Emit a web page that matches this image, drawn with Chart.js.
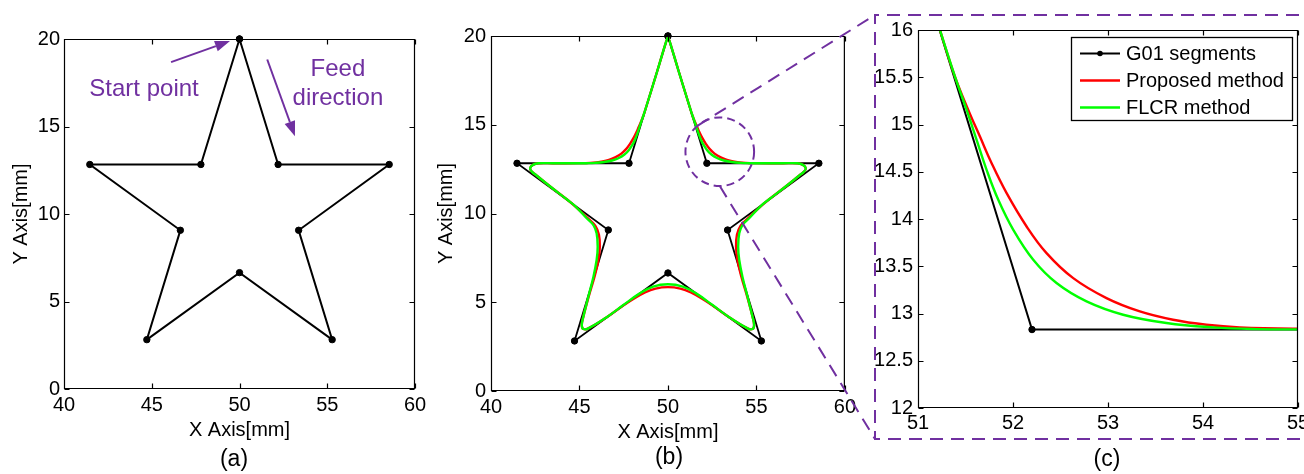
<!DOCTYPE html>
<html>
<head>
<meta charset="utf-8">
<script src="https://cdn.jsdelivr.net/npm/chart.js@4.4.1/dist/chart.umd.min.js"></script>
<style>
  html, body { margin: 0; padding: 0; background: #fff; overflow: hidden; }
  #wrap { position: relative; width: 1304px; height: 474px; overflow: hidden; background: #fff; }
  #wrap canvas { position: absolute; top: 0; }
  .cap { position: absolute; font: 23px "Liberation Sans", Arial, sans-serif; line-height: 1; color: #000;
         transform: translateX(-50%); white-space: nowrap; }
</style>
</head>
<body>
<div id="wrap">
  <canvas id="starA" width="440" height="474" style="left:0px"></canvas>
  <canvas id="starB" width="440" height="474" style="left:420px"></canvas>
  <canvas id="zoomC" width="470" height="474" style="left:860px"></canvas>
  <canvas id="links" width="1304" height="474" style="left:0px;pointer-events:none"></canvas>
  <div class="cap" style="left:234px;top:447px">(a)</div>
  <div class="cap" style="left:669px;top:445px">(b)</div>
  <div class="cap" style="left:1107px;top:447px">(c)</div>
</div>
<script>
// ---- G01 tool path (star outline, start point at the top vertex) ----
const g01X = [50, 52.2, 58.53, 53.37, 55.28, 50, 44.72, 46.63, 41.47, 47.8, 50];
const g01Y = [20, 12.83, 12.83, 9.07, 2.82, 6.65, 2.82, 9.07, 12.83, 12.83, 20];

// ---- Proposed method: smoothed path ----
const proposedX = [50.00, 50.11, 50.61, 51.231, 51.389, 51.529, 51.652, 51.775, 51.933, 52.143, 52.353, 52.634,
  52.984, 53.335, 53.685, 54.036, 54.387, 55.00, 56.50, 57.31, 57.63, 57.79, 57.69, 57.41, 56.60, 55.72,
  55.15, 54.52, 54.10, 53.90, 53.85, 53.93, 54.15, 54.48, 54.78, 54.87, 54.78, 54.50, 53.46, 52.60,
  52.00, 51.30, 50.70, 50.00, 49.30, 48.70, 48.00, 47.40, 46.54, 45.50, 45.22, 45.13, 45.22, 45.52,
  45.85, 46.07, 46.15, 46.10, 45.90, 45.48, 44.85, 44.28, 43.40, 42.59, 42.31, 42.21, 42.37, 42.69,
  43.50, 45.00, 45.613, 45.964, 46.315, 46.665, 47.016, 47.366, 47.647, 47.857, 48.067, 48.225,
  48.348, 48.471, 48.611, 48.769, 49.39, 49.89, 50.00];
const proposedY = [19.95, 19.65, 18.00, 16.00, 15.507, 15.154, 14.872, 14.590, 14.273, 13.921, 13.639, 13.374,
  13.163, 13.022, 12.934, 12.881, 12.853, 12.839, 12.83, 12.83, 12.74, 12.55, 12.36, 12.13, 11.48, 10.80,
  10.32, 9.72, 9.30, 8.80, 8.13, 7.38, 6.44, 5.31, 4.19, 3.72, 3.49, 3.53, 4.16, 4.76,
  5.15, 5.55, 5.77, 5.85, 5.77, 5.55, 5.15, 4.76, 4.16, 3.53, 3.49, 3.72, 4.19, 5.31,
  6.44, 7.38, 8.13, 8.80, 9.30, 9.72, 10.32, 10.80, 11.48, 12.13, 12.36, 12.55, 12.74, 12.83,
  12.83, 12.839, 12.853, 12.881, 12.934, 13.022, 13.163, 13.374, 13.639, 13.921, 14.273, 14.590,
  14.872, 15.154, 15.507, 16.00, 18.00, 19.65, 19.95];

// ---- FLCR method: smoothed path ----
const flcrX = [50.00, 50.11, 50.61, 51.231, 51.389, 51.512, 51.617, 51.722, 51.845, 52.003, 52.213, 52.458,
  52.774, 53.159, 53.615, 54.106, 54.562, 55.00, 56.50, 57.31, 57.63, 57.79, 57.69, 57.41, 56.60, 55.72,
  55.20, 54.59, 54.21, 54.03, 53.97, 54.03, 54.21, 54.50, 54.78, 54.87, 54.78, 54.50, 53.46, 52.52,
  51.59, 50.84, 50.00, 49.16, 48.41, 47.48, 46.54, 45.50, 45.22, 45.13, 45.22, 45.50, 45.79, 45.97,
  46.03, 45.97, 45.79, 45.41, 44.80, 44.28, 43.40, 42.59, 42.31, 42.21, 42.37, 42.69, 43.50, 45.00,
  45.438, 45.894, 46.385, 46.841, 47.226, 47.542, 47.787, 47.997, 48.155, 48.278, 48.383, 48.488,
  48.611, 48.769, 49.39, 49.89, 50.00];
const flcrY = [19.95, 19.65, 18.00, 16.00, 15.507, 15.154, 14.837, 14.520, 14.203, 13.885, 13.568, 13.322,
  13.128, 12.987, 12.899, 12.853, 12.835, 12.832, 12.83, 12.83, 12.74, 12.55, 12.36, 12.13, 11.48, 10.80,
  10.38, 9.73, 9.35, 8.88, 8.13, 7.38, 6.44, 5.31, 4.19, 3.72, 3.49, 3.53, 4.16, 4.84,
  5.50, 5.88, 6.01, 5.88, 5.50, 4.84, 4.16, 3.53, 3.49, 3.72, 4.19, 5.31, 6.44, 7.38,
  8.13, 8.88, 9.35, 9.73, 10.38, 10.80, 11.48, 12.13, 12.36, 12.55, 12.74, 12.83, 12.83, 12.832,
  12.835, 12.853, 12.899, 12.987, 13.128, 13.322, 13.568, 13.885, 14.203, 14.520, 14.837, 15.154,
  15.507, 16.00, 18.00, 19.65, 19.95];

// ---- axis ticks ----
const starXTicks = [40, 45, 50, 55, 60];
const starYTicks = [0, 5, 10, 15, 20];
const zoomXTicks = [51, 52, 53, 54, 55];
const zoomYTicks = [12, 12.5, 13, 13.5, 14, 14.5, 15, 15.5, 16];

// magnified region marked on the smoothed star (centre and radius in mm)
const lens = { x: 52.93, y: 13.48, r: 1.94 };

const PURPLE = '#7030a0';
const FONT = '"Liberation Sans", Arial, Helvetica, sans-serif';
Chart.defaults.font.family = FONT;
Chart.defaults.font.size = 20;
Chart.defaults.color = '#000';

const pts = (xs, ys) => xs.map((v, i) => ({ x: v, y: ys[i] }));

// box around the plot area with inward tick marks on all four sides
const axesBox = {
  id: 'axesBox',
  afterDatasetsDraw(chart) {
    const { ctx, chartArea: a, scales: { x, y } } = chart;
    const L = a.left + 0.5, R = a.right - 0.5, T = a.top + 0.5, B = a.bottom - 0.5, len = 5;
    ctx.save();
    ctx.setLineDash([]);
    ctx.strokeStyle = '#000';
    ctx.lineWidth = 1.2;
    ctx.beginPath();
    ctx.rect(L, T, R - L, B - T);
    x.ticks.forEach(t => {
      const p = Math.round(x.getPixelForValue(t.value)) + 0.5;
      ctx.moveTo(p, B); ctx.lineTo(p, B - len);
      ctx.moveTo(p, T); ctx.lineTo(p, T + len);
    });
    y.ticks.forEach(t => {
      const p = Math.round(y.getPixelForValue(t.value)) + 0.5;
      ctx.moveTo(L, p); ctx.lineTo(L + len, p);
      ctx.moveTo(R, p); ctx.lineTo(R - len, p);
    });
    ctx.stroke();
    ctx.restore();
  }
};

function arrow(ctx, x0, y0, x1, y1) {
  const ang = Math.atan2(y1 - y0, x1 - x0), hl = 15, hw = 5.5;
  const bx = x1 - hl * Math.cos(ang), by = y1 - hl * Math.sin(ang);
  ctx.beginPath();
  ctx.moveTo(x0, y0); ctx.lineTo(bx, by); ctx.stroke();
  ctx.beginPath();
  ctx.moveTo(x1, y1);
  ctx.lineTo(bx + hw * Math.sin(ang), by - hw * Math.cos(ang));
  ctx.lineTo(bx - hw * Math.sin(ang), by + hw * Math.cos(ang));
  ctx.closePath(); ctx.fill();
}

// start point / feed direction notes (positions in mm)
const pathNotes = {
  id: 'pathNotes',
  afterDatasetsDraw(chart) {
    const { ctx, scales: { x, y } } = chart;
    const X = v => x.getPixelForValue(v), Y = v => y.getPixelForValue(v);
    ctx.save();
    ctx.fillStyle = PURPLE; ctx.strokeStyle = PURPLE; ctx.lineWidth = 2;
    ctx.font = '24px ' + FONT; ctx.textAlign = 'center'; ctx.textBaseline = 'alphabetic';
    ctx.fillText('Start point', X(44.56), Y(16.74));
    ctx.fillText('Feed', X(55.61), Y(17.87));
    ctx.fillText('direction', X(55.61), Y(16.22));
    arrow(ctx, X(46.10), Y(18.68), X(49.46), Y(19.88));
    arrow(ctx, X(51.58), Y(18.83), X(53.16), Y(14.45));
    ctx.restore();
  }
};

// boxed legend in the upper right corner of the magnified view
const boxLegend = {
  id: 'boxLegend',
  afterDraw(chart) {
    const { ctx, chartArea: a } = chart;
    const w = 221, h = 83, bx = a.right - 6 - w, by = a.top + 7;
    ctx.save();
    ctx.fillStyle = '#fff'; ctx.fillRect(bx, by, w, h);
    ctx.strokeStyle = '#000'; ctx.lineWidth = 1.3; ctx.strokeRect(bx + 0.5, by + 0.5, w, h);
    ctx.font = '20px ' + FONT; ctx.textBaseline = 'middle'; ctx.textAlign = 'left';
    chart.data.datasets.slice().sort((p, q) => p.legendRank - q.legendRank).forEach((ds, i) => {
      const yy = by + 16.5 + i * 27;
      ctx.strokeStyle = ds.borderColor; ctx.lineWidth = ds.borderWidth;
      ctx.beginPath(); ctx.moveTo(bx + 9, yy); ctx.lineTo(bx + 49, yy); ctx.stroke();
      if (ds.legendDot) {
        ctx.fillStyle = ds.borderColor;
        ctx.beginPath(); ctx.arc(bx + 29, yy, 2.8, 0, Math.PI * 2); ctx.fill();
      }
      ctx.fillStyle = '#000';
      ctx.fillText(ds.label, bx + 55, yy + 1);
    });
    ctx.restore();
  }
};

function axis(min, max, tickVals, pad, fit, title) {
  const horizontal = fit.height !== undefined;
  const cfg = {
    type: 'linear', min, max,
    grid: { display: false, drawTicks: false },
    border: { display: false },
    afterBuildTicks: s => { s.ticks = tickVals.map(v => ({ value: v })); },
    afterFit: s => { if (horizontal) s.height = fit.height; else s.width = fit.width; },
    ticks: { padding: pad, color: '#000', autoSkip: false, maxRotation: 0, callback: v => String(v) }
  };
  if (title) cfg.title = { display: true, text: title.text, color: '#000', font: { size: 20 }, padding: title.padding };
  return cfg;
}

function baseOptions(padding, scales) {
  return {
    responsive: false, animation: false, devicePixelRatio: 1,
    layout: { padding },
    elements: { line: { capBezierPoints: false } },
    plugins: { legend: { display: false }, tooltip: { enabled: false } },
    scales
  };
}

const g01Set = (r, bw, clip) => ({
  label: 'G01 segments', data: pts(g01X, g01Y), showLine: true, tension: 0,
  borderColor: '#000', backgroundColor: '#000', borderWidth: bw,
  pointRadius: r, pointBackgroundColor: '#000', pointBorderColor: '#000', pointBorderWidth: 1,
  clip, order: 3, legendRank: 0, legendDot: true
});
const curveSet = (label, xs, ys, color, bw, order, rank, clip) => ({
  label, data: pts(xs, ys), showLine: true, tension: 0.4,
  borderColor: color, backgroundColor: color, borderWidth: bw, pointRadius: 0,
  clip, order, legendRank: rank
});

const RED = '#ff0000', GREEN = '#00ff00';

// (a) G01 tool path
new Chart(document.getElementById('starA'), {
  type: 'scatter',
  data: { datasets: [g01Set(3.2, 2, false)] },
  options: baseOptions({ left: 0, top: 39, right: 25, bottom: 0 }, {
    x: axis(40, 60, starXTicks, 4, { height: 85 }, { text: 'X Axis[mm]', padding: { top: 0, bottom: 32 } }),
    y: axis(0, 20, starYTicks, 4, { width: 64 }, { text: 'Y Axis[mm]', padding: { top: 9, bottom: 0 } })
  }),
  plugins: [axesBox, pathNotes]
});

// (b) smoothed paths over the G01 path
const chartB = new Chart(document.getElementById('starB'), {
  type: 'scatter',
  data: { datasets: [
    g01Set(3.2, 1.8, false),
    curveSet('Proposed method', proposedX, proposedY, RED, 2.4, 2, 1, false),
    curveSet('FLCR method', flcrX, flcrY, GREEN, 2.4, 1, 2, false)
  ] },
  options: baseOptions({ left: 0, top: 36, right: 13, bottom: 0 }, {
    x: axis(40, 60, starXTicks, 4, { height: 83 }, { text: 'X Axis[mm]', padding: { top: 0, bottom: 30 } }),
    y: axis(0, 20, starYTicks, 5, { width: 71 }, { text: 'Y Axis[mm]', padding: { top: 14, bottom: 0 } })
  }),
  plugins: [axesBox]
});

// (c) magnified corner
new Chart(document.getElementById('zoomC'), {
  type: 'scatter',
  data: { datasets: [
    g01Set(3.2, 2, 0),
    curveSet('Proposed method', proposedX, proposedY, RED, 2.4, 2, 1, 0),
    curveSet('FLCR method', flcrX, flcrY, GREEN, 2.4, 1, 2, 0)
  ] },
  options: baseOptions({ left: 0, top: 30, right: 32, bottom: 0 }, {
    x: axis(51, 55, zoomXTicks, 3, { height: 66 }),
    y: axis(12, 16, zoomYTicks, 5, { width: 58 })
  }),
  plugins: [axesBox, boxLegend]
});

// dashed lens on (b), frame around (c) and the two connectors
(function drawLinks() {
  const ctx = document.getElementById('links').getContext('2d');
  const sx = chartB.scales.x, sy = chartB.scales.y, offB = 420;
  const cx = offB + sx.getPixelForValue(lens.x), cy = sy.getPixelForValue(lens.y);
  const r = sx.getPixelForValue(lens.x + lens.r) - sx.getPixelForValue(lens.x);
  const fL = 875, fT = 15, fB = 439, fR = 1320;
  ctx.strokeStyle = PURPLE; ctx.lineWidth = 2;
  ctx.setLineDash([8, 5]);
  ctx.beginPath(); ctx.arc(cx, cy, r, 0, Math.PI * 2); ctx.stroke();
  ctx.setLineDash([13, 8]);
  ctx.beginPath();
  ctx.moveTo(fR, fT); ctx.lineTo(fL, fT); ctx.lineTo(fL, fB); ctx.lineTo(fR, fB);
  ctx.stroke();
  const up = -131.6 * Math.PI / 180, dn = Math.PI / 2;
  ctx.beginPath();
  ctx.moveTo(cx + r * Math.cos(up), cy + r * Math.sin(up)); ctx.lineTo(fL, fT);
  ctx.stroke();
  ctx.beginPath();
  ctx.moveTo(cx + r * Math.cos(dn), cy + r * Math.sin(dn)); ctx.lineTo(fL, fB);
  ctx.stroke();
})();
</script>
</body>
</html>
